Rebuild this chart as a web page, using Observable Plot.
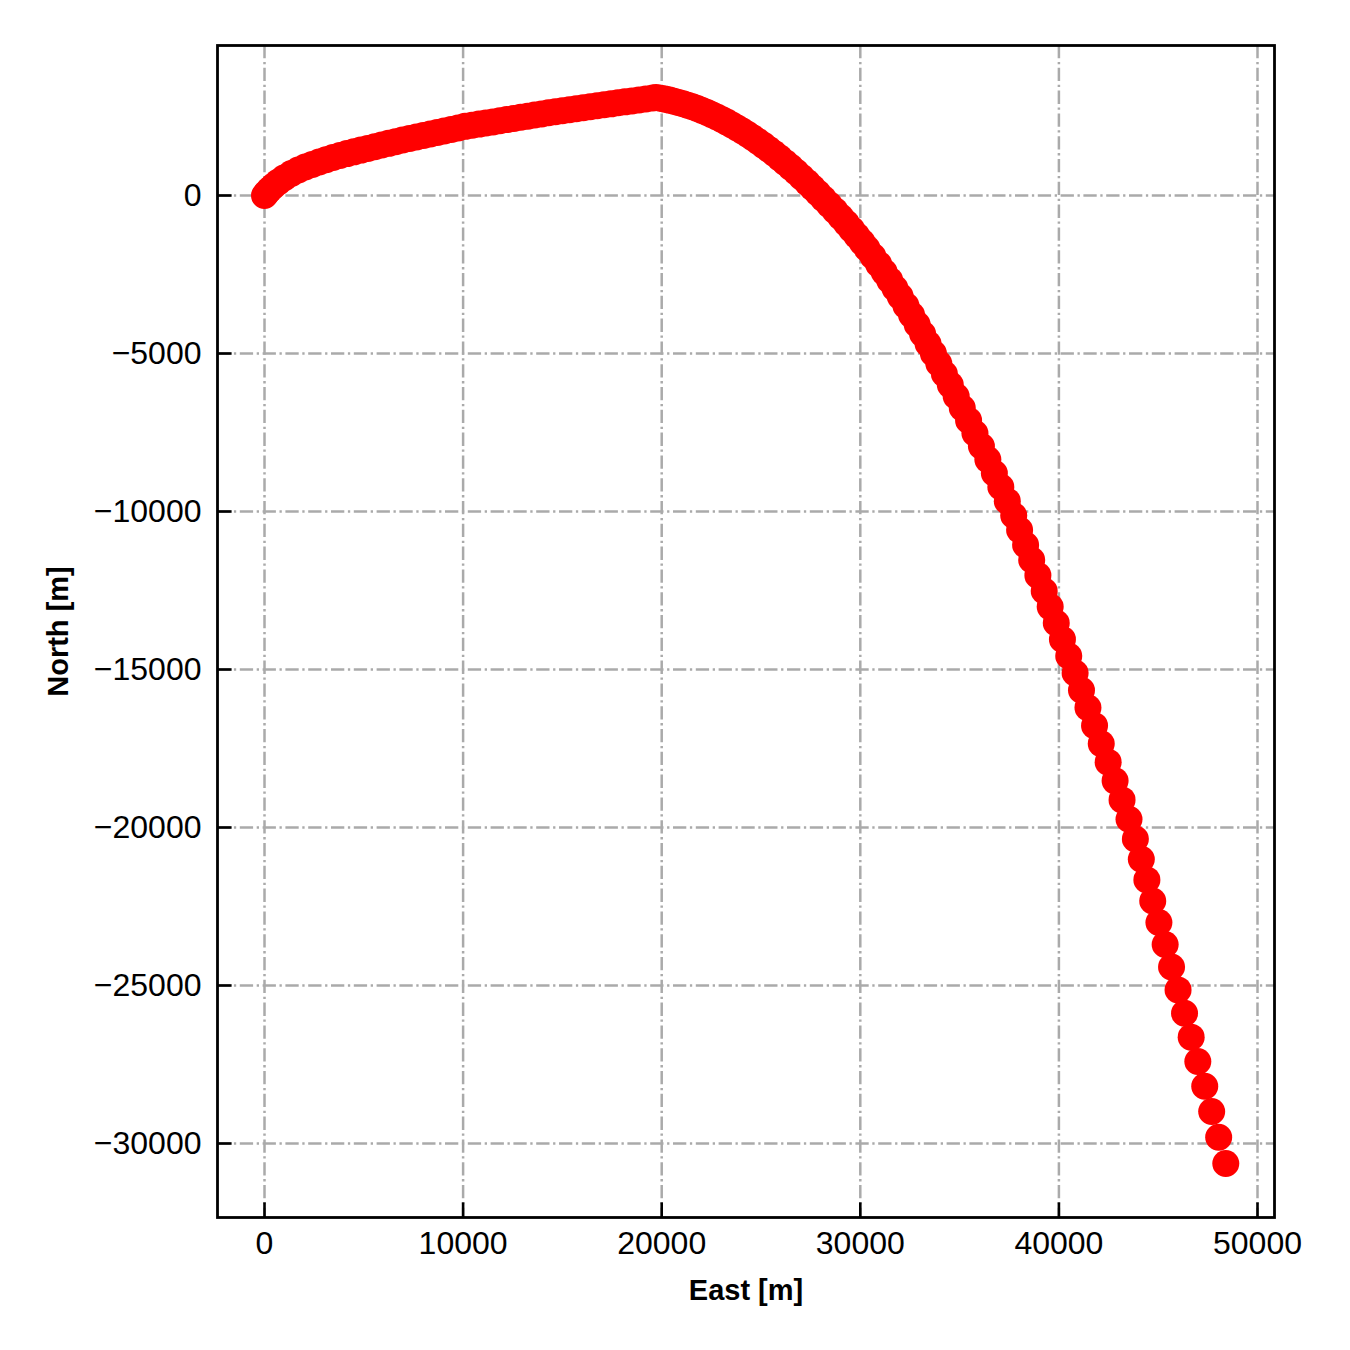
<!DOCTYPE html>
<html><head><meta charset="utf-8">
<script src="https://cdn.jsdelivr.net/npm/d3@7"></script>
<script src="https://cdn.jsdelivr.net/npm/@observablehq/plot@0.6"></script>
<style>body{margin:0;background:#fff}</style>
</head><body><div id="chart"></div>
<script>
const eastM = [
0,100,250,450,700,1000,1350,1700,2050,2400,2750,3100,3450,3800,4150,4500,4850,5200,5550,5900,6250,6600,6950,7300,7650,8000,8350,8700,9050,9400,9750,10100,10450,10800,11150,11500,11850,12200,12550,12900,13250,13600,13950,14300,14650,15000,15350,15700,16050,16400,16750,17100,17450,17800,18150,18500,18850,19200,19550,19720,
19940,20163,20390,20615,20843,21074,21309,21547,21789,22034,22283,22527,22775,23026,23280,23537,23798,24057,24320,24586,24855,25127,25403,25669,25939,26212,26488,26767,27049,27334,27597,27862,
28144,28439,28728,29012,29289,29559,29825,30084,30338,30633,30921,31201,31476,31744,32006,32297,32583,32863,33139,33411,33679,
33953,34236,34531,34827,35135,35452,35772,36099,36422,36750,37076,37402,37725,38021,38323,38630,38942,39260,39561,39867,40178,40495,40816,41137,41463,41795,42132,42480,42830,43180,43530,43850,44150,44430,44724,45036,45350,45672,46000,46326,46660,46995,47343,47693,48045,48403
];
const northM = [
0,80,180,300,430,565,695,805,900,985,1062,1135,1205,1268,1326,1382,1437,1491,1543,1596,1650,1704,1755,1804,1852,1900,1949,1997,2044,2092,2140,2188,2223,2259,2295,2330,2366,2402,2438,2474,2510,2546,2581,2617,2650,2681,2713,2744,2776,2807,2839,2870,2901,2933,2963,2994,3024,3055,3085,3101,
3077,3050,3019,2985,2947,2905,2858,2807,2752,2691,2626,2558,2485,2406,2323,2234,2139,2041,1936,1826,1710,1587,1457,1328,1191,1048,899,743,579,409,247,79,
-102,-292,-484,-678,-874,-1072,-1272,-1474,-1678,-1924,-2173,-2424,-2678,-2934,-3192,-3486,-3783,-4082,-4384,-4689,-4997,
-5317,-5647,-5992,-6352,-6727,-7117,-7522,-7936,-8358,-8788,-9226,-9672,-10126,-10588,-11058,-11536,-12022,-12516,-13018,-13528,-14047,-14575,-15112,-15658,-16213,-16777,-17350,-17932,-18524,-19126,-19738,-20364,-21004,-21658,-22326,-23008,-23704,-24414,-25139,-25879,-26634,-27404,-28189,-28989,-29804,-30634
];
const xTicks = [0, 10000, 20000, 30000, 40000, 50000];
const yTicks = [0, -5000, -10000, -15000, -20000, -25000, -30000];
const xLabel = "East [m]";
const yLabel = "North [m]";

const points = eastM.map((e, i) => ({east: e, north: northM[i]}));
const fmt = d => d < 0 ? "\u2212" + Math.abs(d) : String(d);
const W = 1350, H = 1350, ml = 217, mr = 76, mt = 45, mb = 133;
const fw = W - ml - mr, fh = H - mt - mb;
const gridStyle = {stroke: "#aaaaaa", strokeOpacity: 1, strokeWidth: 2.5, strokeDasharray: "13.3,3.6,2.3,3.6"};

const chart = Plot.plot({
  width: W, height: H,
  marginLeft: ml, marginRight: mr, marginTop: mt, marginBottom: mb,
  style: {fontFamily: "'Liberation Sans', Arial, sans-serif", background: "white", color: "black"},
  x: {domain: [-2367, 50856], label: null},
  y: {domain: [-32342, 4747], label: null},
  marks: [
    Plot.gridX(xTicks, gridStyle),
    Plot.gridY(yTicks, gridStyle),
    Plot.dot(points, {x: "east", y: "north", r: 13.5, fill: "#ff0000", stroke: "none"}),
    Plot.ruleX(xTicks, {x: d => d, insetTop: fh - 14.6, stroke: "black", strokeWidth: 2.6}),
    Plot.ruleY(yTicks, {y: d => d, insetRight: fw - 14.6, stroke: "black", strokeWidth: 2.6}),
    Plot.frame({stroke: "black", strokeWidth: 2.8}),
    Plot.axisX(xTicks, {tickSize: 0, tickPadding: 14, fontSize: 32, tickFormat: fmt, label: null}),
    Plot.axisY(yTicks, {tickSize: 0, tickPadding: 16, fontSize: 32, tickFormat: fmt, label: null}),
    Plot.text([xLabel], {frameAnchor: "bottom", dy: 82, fontSize: 29, fontWeight: "bold"}),
    Plot.text([yLabel], {frameAnchor: "left", dx: -159, rotate: -90, textAnchor: "middle", fontSize: 29, fontWeight: "bold"})
  ]
});
document.getElementById("chart").appendChild(chart);
</script>
</body></html>
